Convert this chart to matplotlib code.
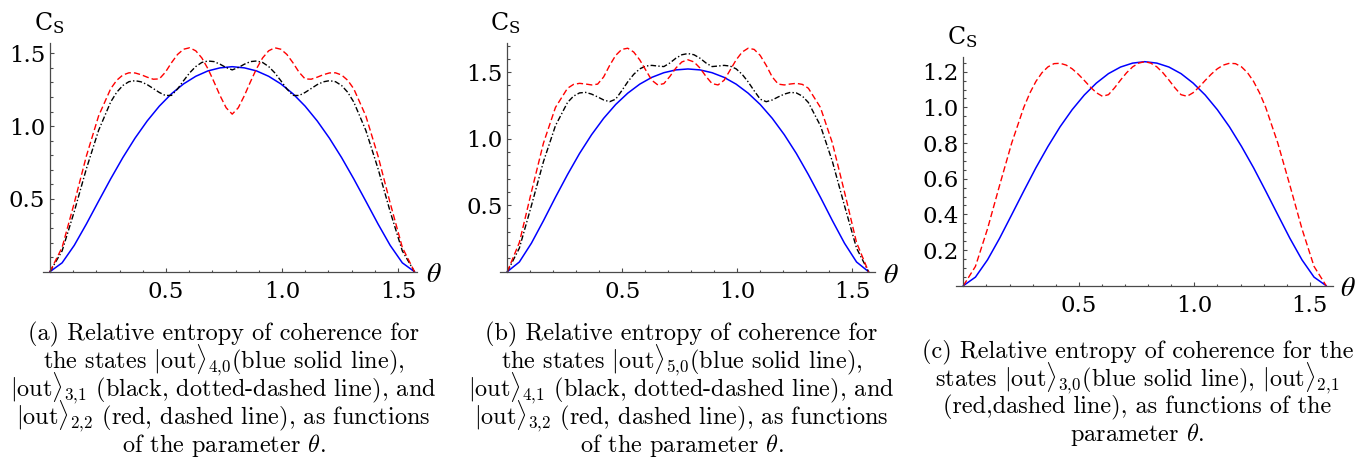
#!/usr/bin/env python3
"""Relative entropy of coherence C_S(theta) of beam-splitter output states.

Three panels: (a) N=4 states, (b) N=5 states, (c) N=3 states, each with the
|out>_{N,0} curve (blue solid) and the other inputs (black dot-dash, red dash).
"""
import matplotlib
matplotlib.use("Agg")
import matplotlib.pyplot as plt
from matplotlib.ticker import FixedLocator, FormatStrFormatter
import numpy as np

W, H = 1370, 458

# theta sampling grids in degrees (0 .. 90 = pi/2); the wavy curves are
# sampled more densely across their oscillating middle section
THETA_DEG = [0, 3, 6, 9, 12, 15, 18, 21, 24, 27, 30, 33, 36, 39, 42, 45,
             48, 51, 54, 57, 60, 63, 66, 69, 72, 75, 78, 81, 84, 87, 90]
THETA_FINE_DEG = [0, 3, 6, 9, 12, 15, 16.5, 18, 19.5, 21, 22.5, 24, 25.5, 27,
                  28.5, 30, 31.5, 33, 34.5, 36, 37.5, 39, 40.5, 42, 43.5, 45,
                  46.5, 48, 49.5, 51, 52.5, 54, 55.5, 57, 58.5, 60, 61.5, 63,
                  64.5, 66, 67.5, 69, 70.5, 72, 73.5, 75, 78, 81, 84, 87, 90]

# panel (a)
CS_40 = [0, 0.061, 0.181, 0.328, 0.484, 0.638, 0.784, 0.917, 1.035, 1.137,
         1.222, 1.290, 1.342, 1.379, 1.400, 1.408, 1.400, 1.379, 1.342, 1.290,
         1.222, 1.137, 1.035, 0.917, 0.784, 0.638, 0.484, 0.328, 0.181, 0.061, 0]
CS_31 = [0, 0.143, 0.413, 0.708, 0.970, 1.166, 1.233, 1.279, 1.305, 1.312,
         1.304, 1.285, 1.258, 1.231, 1.210, 1.211, 1.255, 1.312, 1.366, 1.409,
         1.437, 1.447, 1.443, 1.425, 1.402, 1.386, 1.402, 1.425, 1.443, 1.447,
         1.437, 1.409, 1.366, 1.312, 1.255, 1.211, 1.210, 1.231, 1.258, 1.285,
         1.304, 1.312, 1.305, 1.279, 1.233, 1.166, 0.970, 0.708, 0.413, 0.143, 0]
CS_22 = [0, 0.167, 0.472, 0.795, 1.069, 1.257, 1.315, 1.351, 1.366, 1.365,
         1.353, 1.336, 1.322, 1.324, 1.370, 1.435, 1.492, 1.528, 1.538, 1.517,
         1.468, 1.394, 1.304, 1.209, 1.126, 1.082, 1.126, 1.209, 1.304, 1.394,
         1.468, 1.517, 1.538, 1.528, 1.492, 1.435, 1.370, 1.324, 1.322, 1.336,
         1.353, 1.365, 1.366, 1.351, 1.315, 1.257, 1.069, 0.795, 0.472, 0.167, 0]

# panel (b)
CS_50 = [0, 0.073, 0.214, 0.383, 0.560, 0.730, 0.889, 1.030, 1.153, 1.257,
         1.342, 1.410, 1.461, 1.496, 1.517, 1.524, 1.517, 1.496, 1.461, 1.410,
         1.342, 1.257, 1.153, 1.030, 0.889, 0.730, 0.560, 0.383, 0.214, 0.073, 0]
CS_41 = [0, 0.177, 0.496, 0.827, 1.098, 1.272, 1.320, 1.344, 1.348, 1.335,
         1.314, 1.291, 1.278, 1.297, 1.360, 1.427, 1.484, 1.525, 1.546, 1.551,
         1.546, 1.542, 1.569, 1.605, 1.631, 1.640, 1.631, 1.605, 1.569, 1.542,
         1.546, 1.551, 1.546, 1.525, 1.484, 1.427, 1.360, 1.297, 1.278, 1.291,
         1.314, 1.335, 1.348, 1.344, 1.320, 1.272, 1.098, 0.827, 0.496, 0.177, 0]
CS_32 = [0, 0.219, 0.599, 0.966, 1.235, 1.379, 1.408, 1.416, 1.411, 1.404,
         1.410, 1.464, 1.551, 1.626, 1.671, 1.680, 1.651, 1.592, 1.515, 1.439,
         1.404, 1.414, 1.468, 1.531, 1.577, 1.593, 1.577, 1.531, 1.468, 1.414,
         1.404, 1.439, 1.515, 1.592, 1.651, 1.680, 1.671, 1.626, 1.551, 1.464,
         1.410, 1.404, 1.411, 1.416, 1.408, 1.379, 1.235, 0.966, 0.599, 0.219, 0]

# panel (c)
CS_30 = [0, 0.048, 0.145, 0.266, 0.398, 0.531, 0.661, 0.781, 0.891, 0.987,
         1.069, 1.136, 1.189, 1.226, 1.248, 1.256, 1.248, 1.226, 1.189, 1.136,
         1.069, 0.987, 0.891, 0.781, 0.661, 0.531, 0.398, 0.266, 0.145, 0.048, 0]
CS_21 = [0, 0.108, 0.319, 0.563, 0.800, 1.000, 1.080, 1.145, 1.194, 1.227,
         1.245, 1.247, 1.237, 1.216, 1.186, 1.151, 1.114, 1.082, 1.062, 1.071,
         1.109, 1.153, 1.194, 1.227, 1.248, 1.256, 1.248, 1.227, 1.194, 1.153,
         1.109, 1.071, 1.062, 1.082, 1.114, 1.151, 1.186, 1.216, 1.237, 1.247,
         1.245, 1.227, 1.194, 1.145, 1.080, 1.000, 0.800, 0.563, 0.319, 0.108, 0]

BLUE, RED, BLACK = "#0000ff", "#ff0000", "#000000"
AXIS = "#4a4a4a"
TICK_FONT = "DejaVu Serif"
CAP_FONT = "cmr10"

SOLID = dict(color=BLUE, lw=1.1, ls="-")
DOTDASH = dict(color=BLACK, lw=1.0, dashes=(4.0, 1.6, 1.0, 1.6))
DASHED = dict(color=RED, lw=1.0, dashes=(4.5, 2.2))

KET = r"$|\mathrm{out}\rangle_{%s{,}%s}$"

CAP_A = [r"(a) Relative entropy of coherence for",
         r"the states " + KET % (4, 0) + r"(blue solid line),",
         KET % (3, 1) + r" (black, dotted-dashed line), and",
         KET % (2, 2) + r" (red, dashed line), as functions",
         r"of the parameter $\theta$."]
CAP_B = [r"(b) Relative entropy of coherence for",
         r"the states " + KET % (5, 0) + r"(blue solid line),",
         KET % (4, 1) + r" (black, dotted-dashed line), and",
         KET % (3, 2) + r" (red, dashed line), as functions",
         r"of the parameter $\theta$."]
CAP_C = [r"(c) Relative entropy of coherence for the",
         r"states " + KET % (3, 0) + r"(blue solid line), " + KET % (2, 1),
         r"(red,dashed line), as functions of the",
         r"parameter $\theta$."]

PANELS = [
    dict(rect=(43.0, 43.1, 416.6, 271.7), xlim=(-0.03, 1.58), ylim=(0, 1.57),
         ymaj=[0.5, 1.0, 1.5], ymin=np.arange(0.1, 1.55, 0.1),
         curves=[(THETA_DEG, CS_40, SOLID), (THETA_FINE_DEG, CS_31, DOTDASH),
                 (THETA_FINE_DEG, CS_22, DASHED)],
         cs=(49, 23), th=(434, 274.5),
         cap=CAP_A, capx=223.5, capy=[340, 368, 396, 424, 452]),
    dict(rect=(500.4, 42.9, 875.3, 271.7), xlim=(-0.03, 1.60), ylim=(0, 1.72),
         ymaj=[0.5, 1.0, 1.5], ymin=np.arange(0.1, 1.75, 0.1),
         curves=[(THETA_DEG, CS_50, SOLID), (THETA_FINE_DEG, CS_41, DOTDASH),
                 (THETA_FINE_DEG, CS_32, DASHED)],
         cs=(505.5, 23), th=(891, 275),
         cap=CAP_B, capx=681.5, capy=[340, 368, 396, 424, 452]),
    dict(rect=(956.4, 57.4, 1332.9, 285.7), xlim=(-0.03, 1.60), ylim=(0, 1.28),
         ymaj=[0.2, 0.4, 0.6, 0.8, 1.0, 1.2], ymin=np.arange(0.05, 1.28, 0.05),
         curves=[(THETA_DEG, CS_30, SOLID), (THETA_FINE_DEG, CS_21, DASHED)],
         cs=(962, 37), th=(1348, 288.5),
         cap=CAP_C, capx=1137.5, capy=[358.5, 386, 413.5, 441]),
]


def fx(x):
    return x / W


def fy(y):
    return 1 - y / H


def draw_panel(fig, p):
    x0, y0, x1, y1 = p["rect"]
    ax = fig.add_axes([fx(x0), fy(y1), (x1 - x0) / W, (y1 - y0) / H])
    for deg, vals, style in p["curves"]:
        ax.plot(np.radians(deg), vals, clip_on=False, **style)

    ax.set_xlim(*p["xlim"])
    ax.set_ylim(*p["ylim"])
    for side in ("top", "right"):
        ax.spines[side].set_visible(False)
    ax.spines["left"].set_position(("data", 0))
    for side in ("left", "bottom"):
        ax.spines[side].set_color(AXIS)
        ax.spines[side].set_linewidth(0.9)

    ax.xaxis.set_major_locator(FixedLocator([0.5, 1.0, 1.5]))
    ax.xaxis.set_minor_locator(FixedLocator(np.arange(0.1, 1.55, 0.1)))
    ax.yaxis.set_major_locator(FixedLocator(p["ymaj"]))
    ax.yaxis.set_minor_locator(FixedLocator(p["ymin"]))
    ax.xaxis.set_major_formatter(FormatStrFormatter("%.1f"))
    ax.yaxis.set_major_formatter(FormatStrFormatter("%.1f"))
    ax.tick_params(which="both", direction="in", color=AXIS, width=0.8)
    ax.tick_params(which="major", length=3.2, labelsize=16.5)
    ax.tick_params(which="minor", length=1.8)
    ax.tick_params(axis="x", which="major", pad=7)
    ax.tick_params(axis="y", which="major", pad=3.5)
    for lab in ax.get_xticklabels() + ax.get_yticklabels():
        lab.set_fontfamily(TICK_FONT)
    ax.patch.set_alpha(0)

    fig.text(fx(p["cs"][0]), fy(p["cs"][1]), r"$\mathrm{C}_{\mathrm{S}}$",
             ha="center", va="center", fontsize=17, math_fontfamily="dejavuserif")
    fig.text(fx(p["th"][0]), fy(p["th"][1]), r"$\theta$", ha="center",
             va="center", fontsize=20, math_fontfamily="stix")

    for line, yb in zip(p["cap"], p["capy"]):
        fig.text(fx(p["capx"]), fy(yb), line, ha="center", va="baseline",
                 fontsize=17.5, family=CAP_FONT, math_fontfamily="cm")


def main():
    fig = plt.figure(figsize=(W / 100, H / 100), dpi=100)
    for p in PANELS:
        draw_panel(fig, p)
    fig.savefig("out.png", dpi=100, facecolor="white")


if __name__ == "__main__":
    main()
